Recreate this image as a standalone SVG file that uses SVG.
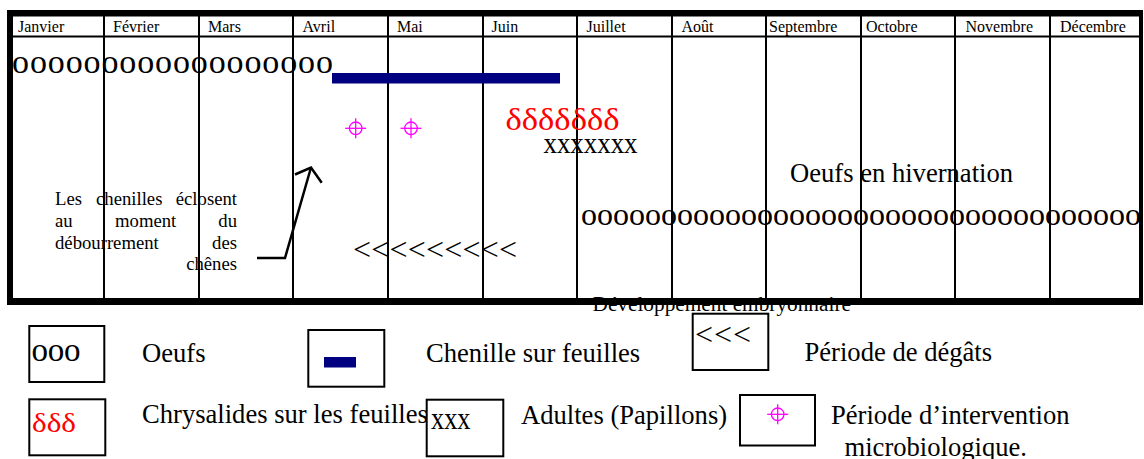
<svg xmlns="http://www.w3.org/2000/svg" width="1144" height="459" viewBox="0 0 1144 459">
<style>
text{font-family:"Liberation Serif","Times New Roman",serif;fill:#000}
.m{font-size:16px}
.lg{font-size:26.6px}
.note{font-size:18.7px}
.red{fill:#f00}
.grid line{stroke:#000;stroke-width:2}
.box{fill:#fff;stroke:#000;stroke-width:2}
.navy{fill:#000080}
</style>
<defs>
<g id="xhair" fill="none" stroke="#f0f" stroke-width="1.3"><circle r="6.3"/><line x1="-10.5" y1="0" x2="10.5" y2="0"/><line x1="0" y1="-10" x2="0" y2="10"/></g>
</defs>
<rect width="1144" height="459" fill="#fff"/>

<g id="embryo-label"><text x="592.5" y="310.5" font-size="21.3">Développement embryonnaire</text></g>

<g id="grid" class="grid">
<line x1="13" y1="36.5" x2="1139" y2="36.5"/>
<line x1="104" y1="16" x2="104" y2="298"/>
<line x1="199" y1="16" x2="199" y2="298"/>
<line x1="293" y1="16" x2="293" y2="298"/>
<line x1="388" y1="16" x2="388" y2="298"/>
<line x1="483" y1="16" x2="483" y2="298"/>
<line x1="577" y1="16" x2="577" y2="298"/>
<line x1="672" y1="16" x2="672" y2="298"/>
<line x1="766" y1="16" x2="766" y2="298"/>
<line x1="861" y1="16" x2="861" y2="298"/>
<line x1="955" y1="16" x2="955" y2="298"/>
<line x1="1050" y1="16" x2="1050" y2="298"/>
</g>

<g id="frame" fill="#000">
<rect x="7" y="10" width="1136" height="6.5"/>
<rect x="7" y="298" width="1136" height="7"/>
<rect x="7" y="10" width="6" height="295"/>
<rect x="1139" y="10" width="4" height="295"/>
</g>

<g id="months" class="m">
<text x="18" y="32">Janvier</text>
<text x="113" y="32">Février</text>
<text x="208" y="32">Mars</text>
<text x="302.5" y="32">Avril</text>
<text x="397" y="32">Mai</text>
<text x="491.5" y="32">Juin</text>
<text x="586.5" y="32">Juillet</text>
<text x="681.5" y="32">Août</text>
<text x="769" y="32">Septembre</text>
<text x="866" y="32">Octobre</text>
<text x="965.5" y="32">Novembre</text>
<text x="1060" y="32">Décembre</text>
</g>

<g id="eggs-spring"><text x="12" y="73" font-size="34" textLength="321">oooooooooooooooooo</text></g>
<g id="caterpillar-bar"><rect class="navy" x="332" y="73" width="228" height="10.5"/></g>
<g id="intervention-1"><use href="#xhair" x="355.7" y="128.3"/></g>
<g id="intervention-2"><use href="#xhair" x="411" y="128.3"/></g>
<g id="chrysalis"><text class="red" x="505.5" y="129.5" font-size="31" textLength="114" lengthAdjust="spacingAndGlyphs">δδδδδδδ</text></g>
<g id="adults"><text x="543.5" y="153.3" font-size="29" textLength="94" lengthAdjust="spacingAndGlyphs">xxxxxxx</text></g>
<g id="overwinter-label"><text class="lg" x="790" y="182">Oeufs en hivernation</text></g>
<g id="eggs-summer"><text x="581" y="225" font-size="32" textLength="560">ooooooooooooooooooooooooooooooooooo</text></g>
<g id="damage"><text x="353" y="260" font-size="32" textLength="164">&lt;&lt;&lt;&lt;&lt;&lt;&lt;&lt;&lt;</text></g>

<g id="hatch-note" class="note">
<text x="55" y="205">Les</text><text x="96" y="205">chenilles</text><text x="237" y="205" text-anchor="end">éclosent</text>
<text x="55" y="226.5">au</text><text x="115" y="226.5">moment</text><text x="237" y="226.5" text-anchor="end">du</text>
<text x="55" y="248.5">débourrement</text><text x="237" y="248.5" text-anchor="end">des</text>
<text x="237" y="270" text-anchor="end">chênes</text>
</g>

<g id="connectors" fill="none" stroke="#000" stroke-width="2.5">
<polyline points="257,258 285,258 311,167.5"/>
<polyline points="295,174.5 311,167.5 321.7,182.7"/>
</g>

<g id="legend-eggs">
<rect class="box" x="29.3" y="326" width="75" height="56"/>
<text x="31.5" y="361" font-size="33" textLength="49">ooo</text>
<text class="lg" x="142" y="361.5">Oeufs</text>
</g>
<g id="legend-caterpillar">
<rect class="box" x="308.3" y="330" width="76" height="56.7"/>
<rect class="navy" x="324" y="357" width="32" height="10.5"/>
<text class="lg" x="426" y="361.5">Chenille sur feuilles</text>
</g>
<g id="legend-damage">
<rect class="box" x="692.7" y="313.7" width="75.6" height="56.3"/>
<text x="695" y="344.5" font-size="32" textLength="56">&lt;&lt;&lt;</text>
<text class="lg" x="804.5" y="361">Période de dégâts</text>
</g>
<g id="legend-chrysalis">
<rect class="box" x="29.3" y="399.3" width="76" height="56"/>
<text class="red" x="32" y="431.5" font-size="26.7" textLength="44" lengthAdjust="spacingAndGlyphs">δδδ</text>
<text class="lg" x="142" y="423.3">Chrysalides sur les feuilles</text>
</g>
<g id="legend-adults">
<rect class="box" x="426.7" y="399.7" width="76.6" height="56.6"/>
<text x="431" y="429.3" font-size="32" textLength="39.5" lengthAdjust="spacingAndGlyphs">xxx</text>
<text class="lg" x="521" y="424">Adultes (Papillons)</text>
</g>
<g id="legend-intervention">
<rect class="box" x="740" y="395" width="75" height="50.5"/>
<use href="#xhair" x="777.7" y="414.3"/>
<text class="lg" x="831" y="424">Période d’intervention</text>
<text class="lg" x="844.5" y="456">microbiologique.</text>
</g>
</svg>
